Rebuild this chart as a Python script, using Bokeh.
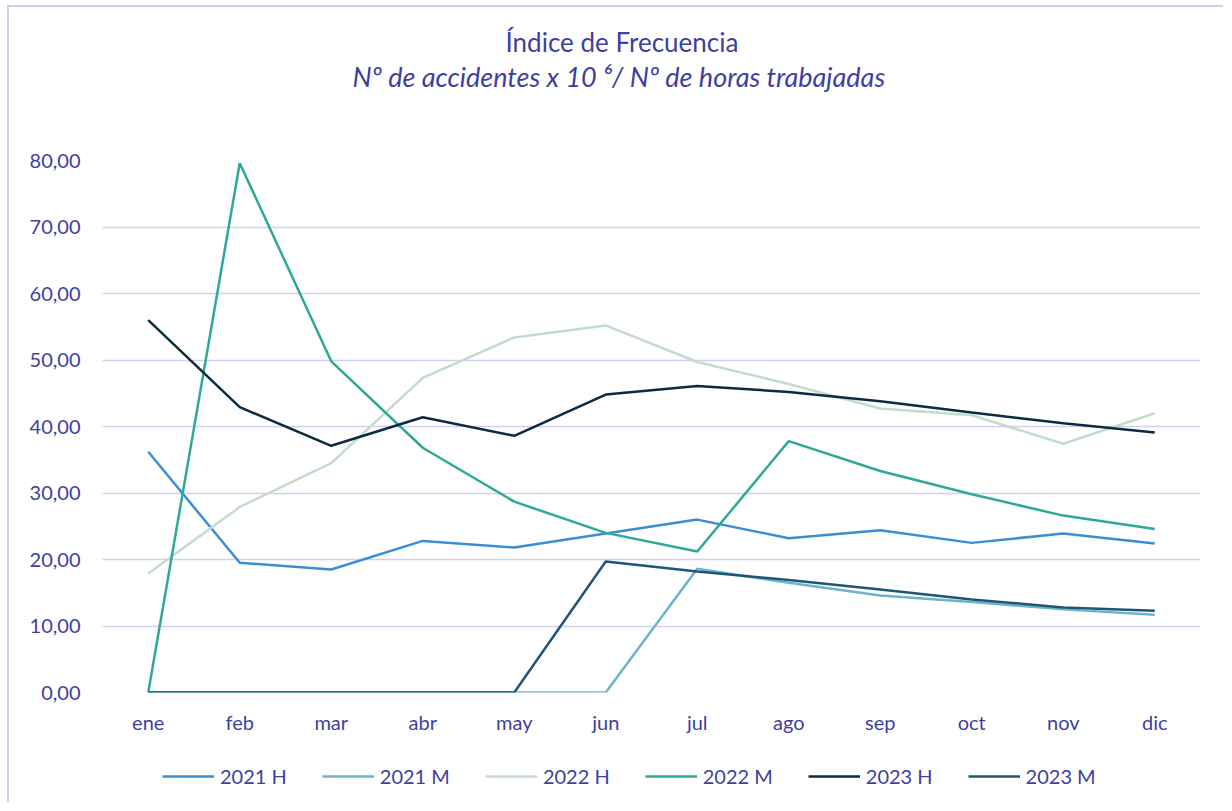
from bokeh.plotting import figure
from bokeh.layouts import column
from bokeh.models import FactorRange, Range1d, FixedTicker, Legend, LegendItem, Title
from bokeh.embed import file_html
from bokeh.resources import INLINE

months = ["ene", "feb", "mar", "abr", "may", "jun", "jul", "ago", "sep", "oct", "nov", "dic"]

h2021 = [36.2, 19.5, 18.5, 22.8, 21.8, 23.9, 26.0, 23.2, 24.4, 22.5, 23.9, 22.4]
m2021 = [0, 0, 0, 0, 0, 0, 18.6, 16.5, 14.6, 13.6, 12.5, 11.7]
h2022 = [17.9, 27.9, 34.5, 47.3, 53.4, 55.2, 49.7, 46.4, 42.7, 41.7, 37.4, 42.0]
m2022 = [0, 79.6, 49.8, 36.8, 28.7, 24.0, 21.2, 37.8, 33.3, 29.8, 26.6, 24.6]
h2023 = [56.0, 42.9, 37.1, 41.4, 38.6, 44.8, 46.1, 45.2, 43.8, 42.1, 40.5, 39.1]
m2023 = [0, 0, 0, 0, 0, 19.7, 18.2, 16.9, 15.5, 14.0, 12.8, 12.3]

series_names = ["2021 H", "2021 M", "2022 H", "2022 M", "2023 H", "2023 M"]
series_values = [h2021, m2021, h2022, m2022, h2023, m2023]
series_colors = ["#3a8fd4", "#6cb4cb", "#c3dccc", "#2ea898", "#0b2b40", "#1f5577"]

y_ticks = [0, 10, 20, 30, 40, 50, 60, 70, 80]
y_tick_labels = ["0,00", "10,00", "20,00", "30,00", "40,00", "50,00", "60,00", "70,00", "80,00"]

title_text = "Índice de Frecuencia"
subtitle_text = "Nº de accidentes x 10 ⁶/ Nº de horas trabajadas"

TXT = "#403f9f"
GRID = "#d3cff0"
FONT = "Lato"

# ---------------- main chart ----------------
p = figure(width=1214, height=745, x_range=FactorRange(*months), y_range=Range1d(0, 80),
           output_backend="svg", toolbar_location=None,
           min_border_left=93, min_border_right=23, min_border_top=153, min_border_bottom=60)
p.background_fill_color = "white"
p.border_fill_color = "white"
p.outline_line_color = None

p.xgrid.grid_line_color = None
p.ygrid.grid_line_color = GRID
p.ygrid.grid_line_width = 1.5

p.yaxis.ticker = FixedTicker(ticks=y_ticks)
p.yaxis.major_label_overrides = {t: l for t, l in zip(y_ticks, y_tick_labels)}
p.yaxis.axis_line_color = None
p.yaxis.major_tick_line_color = None
p.yaxis.minor_tick_line_color = None
p.yaxis.major_tick_out = 0
p.yaxis.major_tick_in = 0
p.yaxis.major_label_standoff = 22
p.yaxis.major_label_text_font = FONT
p.yaxis.major_label_text_font_size = "20px"
p.yaxis.major_label_text_color = TXT

# the zero grid line acts as the baseline, so lines at 0 stay on top of it
p.xaxis.axis_line_color = None
p.xaxis.major_tick_line_color = None
p.xaxis.minor_tick_line_color = None
p.xaxis.major_tick_out = 0
p.xaxis.major_tick_in = 0
p.xaxis.major_label_standoff = 17
p.xaxis.major_label_text_font = FONT
p.xaxis.major_label_text_font_size = "20px"
p.xaxis.major_label_text_color = TXT

for name, vals, col in zip(series_names, series_values, series_colors):
    p.line(months, vals, line_color=col, line_width=2.5)

# spacer between frame and subtitle, then subtitle, then title
p.add_layout(Title(text=" ", text_font_size="10px", standoff=55), "above")
p.add_layout(Title(text=subtitle_text, align="left", offset=250, standoff=0,
                   text_font=FONT, text_font_style="italic", text_font_size="27px",
                   text_color=TXT), "above")
p.add_layout(Title(text=title_text, align="left", offset=403, standoff=0,
                   text_font=FONT, text_font_style="normal", text_font_size="26px",
                   text_color=TXT), "above")

# ---------------- legend strip ----------------
pl = figure(width=1214, height=50, x_range=FactorRange(*months), y_range=Range1d(0, 80),
            output_backend="svg", toolbar_location=None,
            x_axis_location=None, y_axis_location=None,
            min_border_left=0, min_border_right=0, min_border_top=0, min_border_bottom=0)
pl.background_fill_color = "white"
pl.border_fill_color = "white"
pl.outline_line_color = None
pl.grid.visible = False

items = []
for name, vals, col in zip(series_names, series_values, series_colors):
    r = pl.line(months, vals, line_color=col, line_width=2.5, visible=False)
    items.append(LegendItem(label=name, renderers=[r]))

legend = Legend(items=items, orientation="horizontal", location=(60, 14),
                glyph_width=52, glyph_height=20, label_height=20, label_standoff=6,
                spacing=35, padding=4, margin=0,
                label_text_font=FONT, label_text_font_size="20px", label_text_color=TXT,
                background_fill_alpha=0, border_line_color=None)
pl.add_layout(legend, "center")

layout = column(p, pl, spacing=0,
                styles={"border-left": "2px solid #d2cdef", "border-top": "2px solid #d2cdef",
                        "margin-left": "7px", "margin-top": "5px"})

open("out.html", "w").write(file_html(layout, INLINE))
